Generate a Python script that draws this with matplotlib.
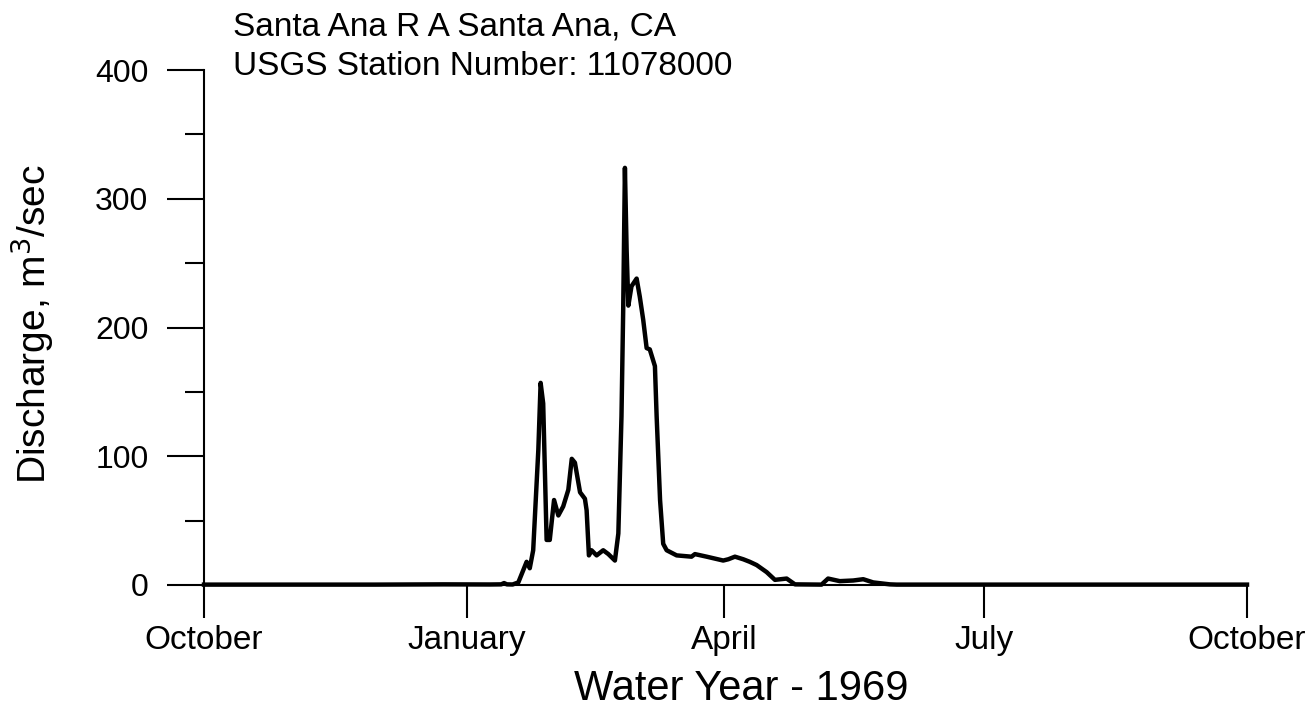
import matplotlib
matplotlib.use("Agg")
import matplotlib.pyplot as plt
from matplotlib.ticker import MultipleLocator

plt.rcParams['font.family'] = ['Liberation Sans', 'DejaVu Sans']

# Daily discharge, water year 1969 (day 0 = 1 October 1968)
day = [0, 60, 84, 100, 104, 105, 106, 108, 110, 112.9, 114, 115.2, 117, 117.8,
       118.7, 119.9, 121, 122.5, 124, 125.7, 127.5, 128.7, 129.8, 131.6, 133.3,
       133.9, 134.7, 135.6, 137.4, 139.7, 141.5, 143.8, 145, 146.1, 146.7, 147.3,
       147.9, 148.5, 149.6, 151.4, 152.5, 153.7, 154.9, 156, 157.8, 158.4, 159.6,
       160.7, 161.9, 165.4, 170.6, 171.8, 175.9, 181.7, 183.5, 185.8, 188.7, 191,
       193.4, 196.9, 199.8, 203.9, 206.8, 216.1, 218.4, 222.5, 227.2, 230.7,
       234.2, 240, 242.4, 300, 365]
discharge = [0.3, 0.3, 0.5, 0.4, 0.5, 1.5, 0.5, 0.4, 2, 18, 13, 27, 105, 157,
             141, 35, 35, 66, 54, 61, 74, 98, 95, 72, 67,
             58, 23, 27, 23, 27, 24, 19, 40, 131, 214, 324,
             260, 217, 232, 238, 224, 206, 184, 183, 170, 131, 66,
             32, 27, 23, 22, 24, 22, 19, 20, 22, 20, 18,
             15.5, 10, 4, 5, 0.5, 0.3, 5, 3, 3.5, 4.5,
             2, 0.5, 0.3, 0.3, 0.3]

tick_days = [0, 92, 182, 273, 365]
tick_labels = ["October", "January", "April", "July", "October"]

fig = plt.figure(figsize=(13.15, 7.2), dpi=100)
ax = fig.add_axes([204 / 1315, 1 - 585 / 720, (1247 - 204) / 1315, (585 - 70) / 720])

ax.plot(day, discharge, color="black", lw=3.2, solid_joinstyle="round",
        clip_on=False, zorder=5)

ax.set_xlim(0, 365)
ax.set_ylim(0, 400)

for side in ("top", "right"):
    ax.spines[side].set_visible(False)
for side in ("left", "bottom"):
    ax.spines[side].set_linewidth(1.5)

ax.set_xticks(tick_days)
ax.set_xticklabels(tick_labels)
ax.yaxis.set_major_locator(MultipleLocator(100))
ax.yaxis.set_minor_locator(MultipleLocator(50))

ax.tick_params(axis="x", direction="out", length=24, width=1.5, pad=5,
               labelsize=24)
ax.tick_params(axis="y", which="major", direction="out", length=27, width=1.5,
               pad=13, labelsize=23)
ax.tick_params(axis="y", which="minor", direction="out", length=14, width=1.5)

fig.text(741 / 1315, 1 - 700 / 720, "Water Year - 1969", ha="center",
         va="baseline", fontsize=30)
fig.text(32 / 1315, 1 - 324 / 720, r"Discharge, m$^3$/sec", ha="center",
         va="center", rotation=90, fontsize=28)

fig.text(233 / 1315, 1 - 35 / 720, "Santa Ana R A Santa Ana, CA",
         ha="left", va="baseline", fontsize=24)
fig.text(233 / 1315, 1 - 75 / 720, "USGS Station Number: 11078000",
         ha="left", va="baseline", fontsize=24)

fig.savefig("out.png", dpi=100)
